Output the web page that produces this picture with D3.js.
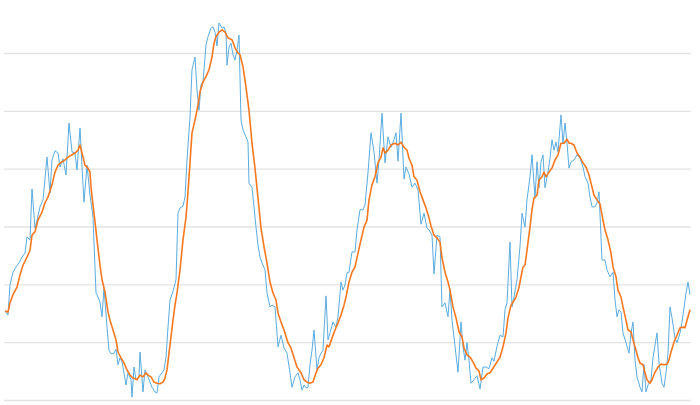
<!DOCTYPE html>
<html><head><meta charset="utf-8">
<script src="https://cdn.jsdelivr.net/npm/d3@7"></script>
<style>html,body{margin:0;padding:0;background:#fff;}svg{display:block;}</style>
</head><body>
<svg id="chart" width="700" height="405"></svg>
<script>
// Raw (noisy) series: time positions and values
const rawT = [0,3,5,8,11,14,17,20,22,25,27,30,32,35,38,42,45,47,50,53,55,58,61,64,67,70,72,75,77,79,82,85,88,91,93,95,97,99,102,104,106,109,111,113,115,117,119,121,123,126,127,129,131,134,135,138,140,143,145,147,150,152,154,157,159,161,163,165,168,171,173,175,178,180,182,185,187,190,192,194,196,198,201,203,206,208,210,212,214,217,219,221,222,224,226,228,230,232,234,236,238,241,243,244,247,249,251,253,255,257,260,262,265,267,270,273,276,279,282,285,287,290,293,295,297,299,301,303,305,307,309,312,314,316,318,321,323,325,328,331,333,336,338,340,342,344,347,350,352,355,358,360,363,366,369,372,374,377,380,383,386,389,391,393,396,399,401,404,407,410,413,416,419,422,424,427,429,432,435,437,440,443,445,447,450,453,456,458,460,462,464,466,469,472,475,478,481,484,487,489,492,495,498,500,502,505,507,509,512,515,517,520,522,525,527,530,532,534,536,538,540,543,545,547,549,551,553,556,558,560,562,564,566,569,572,575,578,580,583,585,587,590,592,594,597,600,602,605,608,610,612,614,616,618,621,624,626,628,630,632,635,637,639,641,643,646,648,650,652,654,657,659,661,663,665,667,670,672,675,677,679,681,683,685];
const rawV = [15.4,14.7,19.9,22.1,23.0,23.7,24.7,25.4,28.2,27.7,36.5,29.7,31.1,33.4,34.6,42.0,35.8,41.5,43.1,42.7,40.3,41.7,38.9,47.9,42.9,42.7,39.8,47.0,40.3,34.2,40.6,35.4,31.6,18.5,17.8,16.9,14.4,19.4,12.6,8.6,8.0,8.1,8.8,6.1,7.3,6.6,4.7,2.6,4.7,3.5,0.5,5.7,3.5,4.0,8.3,1.4,5.2,4.0,3.1,2.2,1.4,1.2,4.0,4.7,5.2,7.4,12.6,17.3,18.8,20.8,32.3,33.2,33.5,35.1,41.5,48.9,57.1,59.3,53.6,50.1,54.5,55.0,61.4,62.8,64.3,64.5,63.6,61.2,65.2,64.3,64.5,63.5,57.9,61.0,61.7,59.7,58.8,60.5,63.1,48.4,46.7,45.5,44.6,37.5,36.7,33.4,29.9,26.8,24.7,23.7,22.5,18.5,16.1,16.4,16.1,9.2,11.2,9.0,8.1,4.7,2.2,4.0,4.7,3.5,1.7,2.6,2.1,2.2,6.1,8.6,12.1,5.2,7.3,8.1,8.6,18.0,10.4,11.6,13.5,12.6,14.4,20.4,19.0,19.9,22.0,22.1,25.6,25.6,29.4,32.9,32.9,33.7,39.3,46.2,42.9,37.5,41.5,49.6,41.0,45.5,43.7,45.0,46.2,41.3,49.6,38.2,40.3,39.1,36.8,37.5,36.3,30.4,32.3,29.7,29.4,28.5,21.8,28.5,28.2,16.1,16.8,14.4,19.2,13.8,9.3,4.8,13.5,9.2,6.9,9.9,6.9,2.9,3.5,4.2,1.9,5.7,5.7,5.4,7.3,6.7,9.3,11.2,10.9,15.6,16.8,27.3,16.1,17.8,20.8,26.5,32.3,29.9,34.6,38.6,42.4,34.9,41.2,36.7,41.2,42.4,36.7,39.4,41.8,45.0,43.2,44.6,42.9,49.3,44.4,47.9,44.4,40.1,41.2,41.5,42.4,41.8,40.3,38.6,37.5,35.1,33.4,33.4,34.1,36.0,24.2,24.2,22.5,21.3,22.1,17.3,14.4,15.6,15.2,11.6,9.9,8.1,11.6,13.5,6.9,4.0,2.2,1.4,6.1,1.4,2.6,3.5,7.3,9.5,11.6,6.4,2.9,2.2,4.7,8.1,16.1,14.2,10.7,9.9,11.6,13.5,15.9,18.5,20.4,18.2];

// Smoothed series: time positions and values
const smoothT = [0,3,5,8,12,15,18,22,25,27,30,33,37,40,43,47,50,53,57,60,63,67,70,73,75,77,80,83,85,86,88,90,92,95,97,100,103,105,108,111,113,116,119,122,125,128,132,135,138,141,143,146,149,152,155,158,160,162,164,166,168,170,172,175,178,181,183,185,187,190,193,195,198,201,204,207,209,211,214,217,220,223,227,230,233,235,238,241,244,247,250,253,256,259,262,265,268,271,273,276,279,283,286,289,292,296,299,302,305,308,311,313,316,319,322,324,327,330,333,336,339,341,344,347,350,353,356,359,362,364,367,370,373,376,378,380,383,386,390,393,396,399,402,404,407,409,412,415,418,421,424,426,429,432,435,437,440,443,445,448,451,454,457,459,462,465,468,471,474,476,479,482,485,488,492,495,498,501,503,506,508,511,514,516,518,520,522,525,527,529,532,534,537,539,541,544,547,550,553,556,559,562,564,566,569,572,575,578,581,584,586,589,592,595,598,600,603,606,608,611,613,616,618,621,623,626,628,631,633,635,638,640,642,645,647,650,653,656,659,662,664,666,669,672,675,678,680,682,685];
const smoothV = [15.4,15.2,16.8,18.2,19.5,21.6,23.3,24.7,25.9,28.5,29.1,31.1,32.5,34.1,35.1,37.2,39.4,40.6,41.2,41.5,42.0,42.4,42.7,43.2,44.1,42.7,40.6,40.1,39.4,36.8,33.7,30.8,27.7,23.3,20.8,18.7,15.2,13.8,12.1,10.4,8.3,7.3,6.4,5.2,4.3,3.8,3.5,4.3,4.0,4.7,4.3,4.0,3.1,2.9,2.8,3.1,3.8,5.2,8.1,10.9,13.8,16.4,18.5,22.5,27.7,31.6,36.0,41.0,46.2,48.4,51.0,53.3,55.0,55.9,57.1,59.3,61.7,62.8,63.6,64.0,63.6,62.6,62.3,60.9,60.0,59.7,57.6,54.1,50.1,44.4,40.1,34.9,29.7,26.5,23.7,20.4,18.5,17.3,15.0,13.5,12.1,9.9,9.0,7.3,5.7,4.7,3.5,3.1,2.9,3.1,4.7,5.5,6.1,7.3,9.5,9.2,10.7,12.1,13.3,14.7,16.4,17.8,20.4,22.1,23.0,25.4,27.7,29.9,31.1,34.6,37.2,38.6,41.0,42.0,43.6,42.7,43.2,44.1,44.4,44.1,44.6,43.7,43.2,41.8,40.6,38.6,38.0,36.0,34.6,33.2,31.5,30.1,28.5,28.0,27.3,24.6,22.1,20.4,19.0,16.1,14.2,11.8,10.9,9.0,7.8,7.4,6.6,5.5,5.0,3.5,3.8,4.5,4.7,5.5,6.6,7.4,9.2,11.6,14.2,16.4,16.9,17.8,19.5,21.3,23.0,23.3,25.9,29.9,32.9,34.9,35.4,38.0,38.6,39.4,38.6,39.4,40.1,41.5,42.4,44.4,44.4,45.1,44.4,44.4,44.1,42.7,42.0,41.0,40.3,38.9,37.5,35.4,34.6,33.9,31.1,29.4,27.7,25.4,23.0,21.3,19.0,17.8,16.1,13.8,12.1,11.8,10.4,8.6,7.3,6.4,6.1,4.7,3.5,2.9,3.5,4.8,5.7,6.2,6.1,6.2,6.9,8.3,10.0,11.2,12.5,12.6,12.5,13.8,15.6];

// Gridline values
const gridValues = [0,10,20,30,40,50,60];

const svg = d3.select("#chart");
const x = d3.scaleLinear().domain([0, 685]).range([5, 690]);
const y = d3.scaleLinear().domain([0, 60]).range([400, 53]);

// gridlines
const gridAxis = d3.axisLeft(y).tickValues(gridValues).tickSize(-687).tickFormat("");
const g = svg.append("g").attr("transform", "translate(4,0)").call(gridAxis);
g.select(".domain").remove();
g.selectAll(".tick line").attr("stroke", "#e3e3e3").attr("stroke-width", 1.3);

const rawData = rawT.map((t, i) => [t, rawV[i]]);
const smoothData = smoothT.map((t, i) => [t, smoothV[i]]);

const line = d3.line().x(d => x(d[0])).y(d => y(d[1]));

svg.append("path").datum(rawData).attr("d", line)
  .attr("fill", "none").attr("stroke", "#5AACE0").attr("stroke-width", 1)
  .attr("stroke-linejoin", "round");
svg.append("path").datum(smoothData).attr("d", line)
  .attr("fill", "none").attr("stroke", "#F7781F").attr("stroke-width", 1.6)
  .attr("stroke-linejoin", "round");
</script>
</body></html>
